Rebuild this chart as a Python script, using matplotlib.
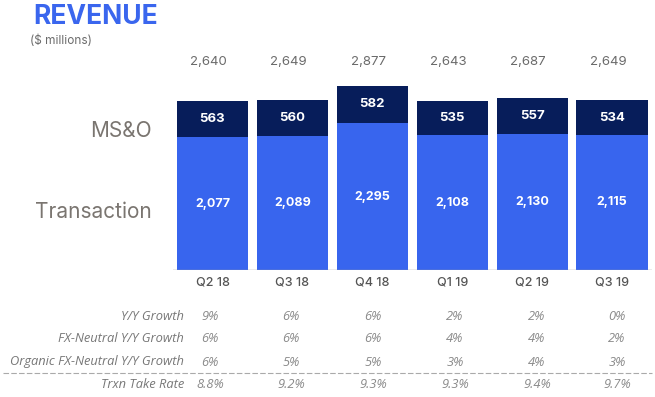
import matplotlib
matplotlib.use("Agg")
import matplotlib.pyplot as plt
from matplotlib.transforms import blended_transform_factory

quarters = ["Q2 18", "Q3 18", "Q4 18", "Q1 19", "Q2 19", "Q3 19"]
transaction = [2077, 2089, 2295, 2108, 2130, 2115]
mso = [563, 560, 582, 535, 557, 534]
totals = [2640, 2649, 2877, 2643, 2687, 2649]
row_labels = ["Y/Y Growth", "FX-Neutral Y/Y Growth", "Organic FX-Neutral Y/Y Growth", "Trxn Take Rate"]
yy_growth = ["9%", "6%", "6%", "2%", "2%", "0%"]
fxn_growth = ["6%", "6%", "6%", "4%", "4%", "2%"]
org_growth = ["6%", "5%", "5%", "3%", "4%", "3%"]
take_rate = ["8.8%", "9.2%", "9.3%", "9.3%", "9.4%", "9.7%"]

W, H = 655, 397
fig = plt.figure(figsize=(W / 100, H / 100), dpi=100)
plt.rcParams['font.family'] = ['Inter', 'DejaVu Sans']

LIGHT = "#3865EE"
DARK = "#071D5A"
GRAY = "#7a7570"

def fx(px):
    return px / W

def fy(py):
    return 1 - py / H

# bar axes
ax_left, ax_right = 172.5, 652
base_y = 270
scale = 0.064  # px per unit
ymax = 3000
top_y = base_y - ymax * scale
ax = fig.add_axes([fx(ax_left), fy(base_y), fx(ax_right - ax_left), (base_y - top_y) / H])
ax.set_xlim(-0.5, 5.5)
ax.set_ylim(0, ymax)
ax.axis("off")

x = list(range(len(quarters)))
bw = 0.89
ax.bar(x, transaction, width=bw, color=LIGHT, zorder=2)
ax.bar(x, mso, bottom=transaction, width=bw, color=DARK, zorder=2)
ax.axhline(0, color="#9a9a9a", lw=1, zorder=3)

for i in x:
    ax.text(i, transaction[i] / 2, f"{transaction[i]:,}", ha="center", va="center",
            color="white", fontsize=9, fontweight="bold")
    ax.text(i, transaction[i] + mso[i] / 2, f"{mso[i]:,}", ha="center", va="center",
            color="white", fontsize=9.5, fontweight="bold")

tr = blended_transform_factory(ax.transData, fig.transFigure)
for i in x:
    ax.text(i - 0.05, fy(62), f"{totals[i]:,}", transform=tr, ha="center", va="center",
            color="#6b6b6b", fontsize=9.5)
    ax.text(i, fy(282), quarters[i], transform=tr, ha="center", va="center",
            color="#555555", fontsize=9, fontweight="medium")

# Title
fig.text(fx(33), fy(17), "REVENUE", ha="left", va="center", color="#3A66EE",
         fontsize=19, fontweight="bold")
fig.text(fx(30), fy(41), "($ millions)", ha="left", va="center", color="#6b6b6b", fontsize=8.5)

# Segment labels
fig.text(fx(152), fy(131), "MS&O", ha="right", va="center", color=GRAY, fontsize=15)
fig.text(fx(152), fy(212), "Transaction", ha="right", va="center", color=GRAY, fontsize=15)

# Table
rows = [yy_growth, fxn_growth, org_growth, take_rate]
row_y = [316, 339, 362, 385]
col_x = [210, 291, 373, 455, 537, 617]
tab_font = ['Open Sans', 'DejaVu Sans']
for lab, vals, yy in zip(row_labels, rows, row_y):
    fig.text(fx(184), fy(yy), lab, ha="right", va="center", color="#777777",
             fontsize=9.3, style="italic", family=tab_font)
    for cx, v in zip(col_x, vals):
        fig.text(fx(cx), fy(yy), v, ha="center", va="center",
                 color="#8a8a8a", fontsize=9.3, style="italic", family=tab_font)

fig.add_artist(plt.Line2D([fx(3), fx(652)], [fy(373), fy(373)], transform=fig.transFigure,
                          color="#aaaaaa", lw=0.8, linestyle=(0, (5, 2))))

fig.savefig("out.png", dpi=100)
